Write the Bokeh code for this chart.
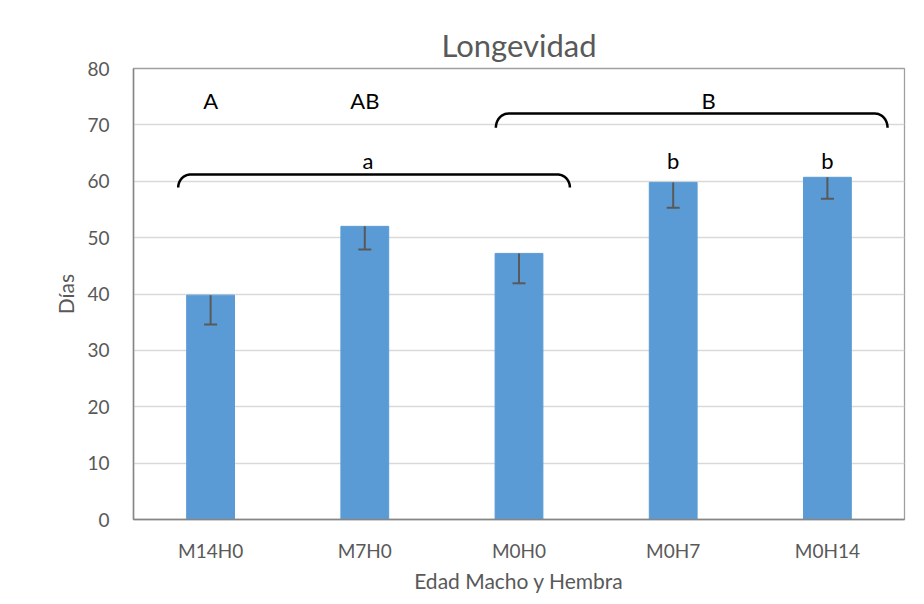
import numpy as np
from bokeh.plotting import figure
from bokeh.models import FactorRange, Range1d, Whisker, ColumnDataSource, TeeHead, FixedTicker
from bokeh.embed import file_html
from bokeh.resources import INLINE
from bokeh.core.properties import value

# ---- data ----
categorias = ["M14H0", "M7H0", "M0H0", "M0H7", "M0H14"]
longevidad = [39.8, 52.0, 47.2, 59.8, 60.7]
error_inf = [5.2, 4.1, 5.3, 4.5, 3.8]
letras_mayus = ["A", "AB", "B"]
letras_minus = ["a", "b", "b"]
y_ticks = [0, 10, 20, 30, 40, 50, 60, 70, 80]

FONT = "Lato"
GRAY = "#595959"

src = ColumnDataSource(dict(
    cat=categorias,
    val=longevidad,
    low=[v - e for v, e in zip(longevidad, error_inf)],
))

p = figure(
    width=916, height=596,
    x_range=FactorRange(*categorias),
    y_range=Range1d(0, 80),
    output_backend="svg", toolbar_location=None,
    min_border_left=133, min_border_right=12,
    min_border_top=68, min_border_bottom=77,
)

p.title.text = "Longevidad"
p.title.text_font = FONT
p.title.text_font_size = "31px"
p.title.text_font_style = "normal"
p.title.text_color = GRAY
p.title.align = "center"
p.title.offset = -18

p.vbar(x="cat", top="val", width=0.31, color="#5b9bd5", source=src)

w = Whisker(source=src, base="cat", upper="val", lower="low",
            line_color=GRAY, line_width=2, level="overlay",
            lower_head=TeeHead(size=13, line_color=GRAY, line_width=2),
            upper_head=None)
p.add_layout(w)

# brackets
def bracket(x0, x1, ytop, ybot, rx):
    t = np.linspace(0, np.pi / 2, 20)
    lx = (x0 + rx) - rx * np.cos(t)
    ly = ybot + (ytop - ybot) * np.sin(t)
    rxs = (x1 - rx) + rx * np.sin(t)
    rys = ytop - (ytop - ybot) * (1 - np.cos(t))
    return list(lx) + list(rxs), list(ly) + list(rys)

bx, by = bracket(0.29, 2.83, 61.2, 58.9, 0.08)
p.line(bx, by, line_color="black", line_width=2.5)
bx, by = bracket(2.35, 4.89, 72.0, 69.5, 0.08)
p.line(bx, by, line_color="black", line_width=2.5)

p.text(x=[0.5, 1.5, 3.73], y=[74.3] * 3, text=letras_mayus,
       text_font=value(FONT), text_font_size="22px", text_color="black",
       text_align="center", text_baseline="middle")
p.text(x=[1.52, 3.5, 4.5], y=[63.7] * 3, text=letras_minus,
       text_font=value(FONT), text_font_size="22px", text_color="black",
       text_align="center", text_baseline="middle")

# axes
p.yaxis.ticker = FixedTicker(ticks=y_ticks)
p.xaxis.axis_label = "Edad Macho y Hembra"
p.yaxis.axis_label = "Días"
for ax in (p.xaxis[0], p.yaxis[0]):
    ax.major_tick_line_color = None
    ax.minor_tick_line_color = None
    ax.major_tick_out = 0
    ax.major_tick_in = 0
    ax.axis_line_color = "#868686"
    ax.axis_line_width = 1.5
    ax.major_label_text_font = FONT
    ax.major_label_text_font_size = "19px"
    ax.major_label_text_color = GRAY
    ax.axis_label_text_font = FONT
    ax.axis_label_text_font_size = "21px"
    ax.axis_label_text_font_style = "normal"
    ax.axis_label_text_color = GRAY
p.yaxis.major_label_standoff = 24
p.xaxis.major_label_standoff = 19
p.yaxis.axis_label_standoff = 6
p.xaxis.axis_label_standoff = 3

p.xgrid.grid_line_color = None
p.ygrid.grid_line_color = "#d9d9d9"
p.ygrid.grid_line_width = 1.3
p.outline_line_color = "#a0a0a0"
p.outline_line_width = 1.3
p.background_fill_color = "white"
p.border_fill_color = "white"

open("out.html", "w").write(file_html(p, INLINE))
